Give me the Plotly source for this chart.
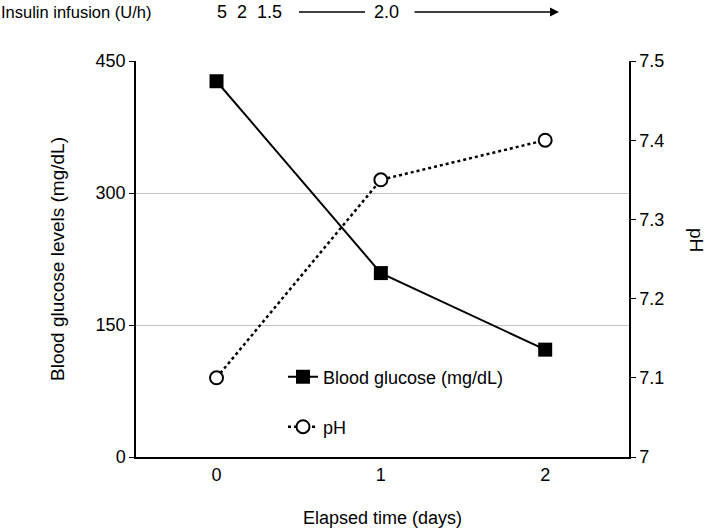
import plotly.graph_objects as go

days = [0, 1, 2]
day_labels = ["0", "1", "2"]
glucose = [427, 209, 122]
ph = [7.10, 7.35, 7.40]
glucose_ticks = [0, 150, 300, 450]
ph_ticks = [7.0, 7.1, 7.2, 7.3, 7.4, 7.5]
ph_tick_labels = ["7", "7.1", "7.2", "7.3", "7.4", "7.5"]
insulin_label = "Insulin infusion (U/h)"
insulin_early = "5  2  1.5"
insulin_later = "2.0"

FONT = "Liberation Sans, Arial, Helvetica, sans-serif"
FS = 18

W, H = 708, 530
L, R, T, B = 136, 79, 61, 73   # plot box: x 136..629, y 61..457
PW, PH = W - L - R, H - T - B

def px(x):
    return (x - L) / PW

def py(y):
    return (H - B - y) / PH

fig = go.Figure()
fig.add_trace(go.Scatter(
    x=days, y=glucose, name="Blood glucose (mg/dL)", mode="lines+markers",
    line=dict(color="black", width=2),
    marker=dict(symbol="square", size=14, color="black"),
    yaxis="y", legend="legend",
))
fig.add_trace(go.Scatter(
    x=days, y=ph, name="pH", mode="lines+markers",
    line=dict(color="black", width=2.5, dash="dot"),
    marker=dict(symbol="circle", size=13, color="white", line=dict(color="black", width=2)),
    yaxis="y2", legend="legend2",
))

fig.update_layout(
    width=W, height=H,
    margin=dict(l=L, r=R, t=T, b=B, autoexpand=False),
    paper_bgcolor="white", plot_bgcolor="white",
    font=dict(family=FONT, size=FS, color="black"),
    xaxis=dict(
        range=[-0.49, 2.51], tickvals=days, ticktext=day_labels,
        showgrid=False, zeroline=False, showline=True, linecolor="black", linewidth=2,
        ticks="", ticklen=0, automargin=False,
        title=dict(text="Elapsed time (days)", standoff=28, font=dict(size=18)),
    ),
    yaxis=dict(
        range=[0, 450], tickvals=glucose_ticks,
        showgrid=True, gridcolor="#c4c4c4", gridwidth=1, zeroline=False,
        showline=True, linecolor="black", linewidth=1.5,
        ticks="outside", ticklen=5, tickcolor="black", tickwidth=1, automargin=False,
        title=dict(text="Blood glucose levels (mg/dL)", standoff=26, font=dict(size=19)),
    ),
    yaxis2=dict(
        range=[7.0, 7.5], tickvals=ph_ticks, ticktext=ph_tick_labels,
        overlaying="y", side="right", showgrid=False, zeroline=False,
        showline=True, linecolor="black", linewidth=1.5, automargin=False,
        ticks="outside", ticklen=5, tickcolor="black", tickwidth=1,
    ),
    legend=dict(x=px(283), y=py(377), xanchor="left", yanchor="middle",
                bgcolor="rgba(0,0,0,0)", font=dict(size=FS)),
    legend2=dict(x=px(283), y=py(427), xanchor="left", yanchor="middle",
                 bgcolor="rgba(0,0,0,0)", font=dict(size=FS)),
    showlegend=True,
)

ann_y = py(12)
annotations = [
    dict(text=insulin_label, x=px(-1), y=ann_y, xanchor="left", yanchor="middle",
         showarrow=False, font=dict(size=16.5)),
    dict(text=insulin_early, x=px(215), y=ann_y, xanchor="left", yanchor="middle", showarrow=False),
    dict(text=insulin_later, x=px(372), y=ann_y, xanchor="left", yanchor="middle", showarrow=False),
    dict(text="", x=px(559), y=ann_y, ax=-(559 - 413), ay=0, axref="pixel", ayref="pixel",
         showarrow=True, arrowhead=2, arrowsize=1.2, arrowwidth=1.5, arrowcolor="black"),
    dict(text="pH", x=px(697), y=py(240), xanchor="center", yanchor="middle",
         textangle=90, showarrow=False, font=dict(size=19)),
]
for a in annotations:
    a.update(xref="paper", yref="paper")
fig.update_layout(annotations=annotations)

fig.add_shape(type="line", xref="paper", yref="paper",
              x0=px(299), x1=px(365), y0=ann_y, y1=ann_y,
              line=dict(color="black", width=1.5))

fig.write_html("out.html", config={"displayModeBar": False},
               post_script="document.body.style.margin='0px';")
